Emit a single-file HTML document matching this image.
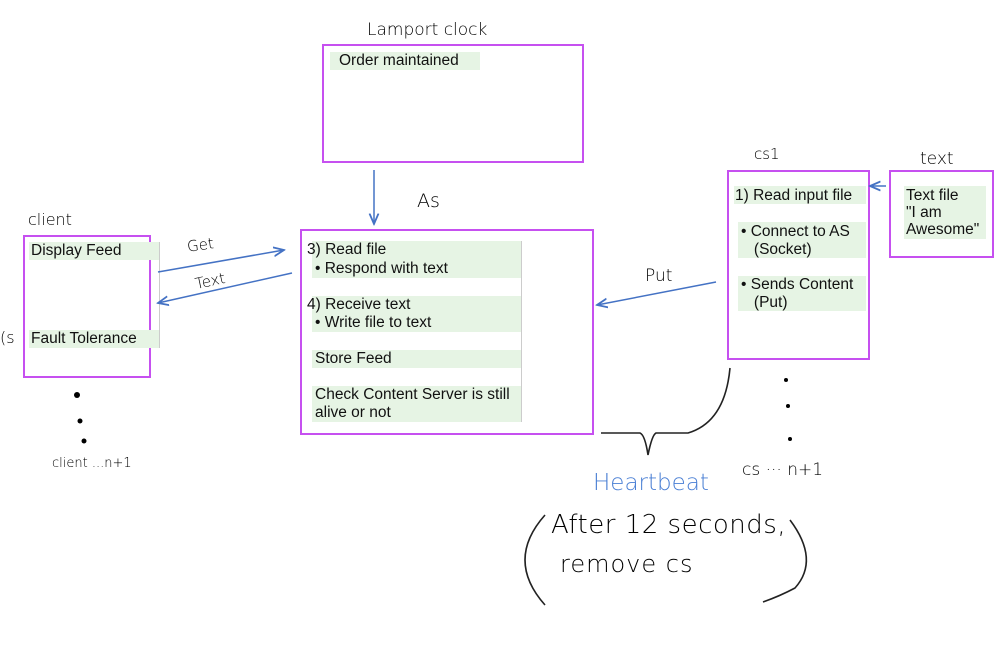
<!DOCTYPE html>
<html><head><meta charset="utf-8"><style>
body{margin:0;width:1006px;height:648px;background:#fff;position:relative;overflow:hidden;font-family:"Liberation Sans",sans-serif;}
.box{position:absolute;border:2px solid #c650f0;box-sizing:border-box;}
.t{position:absolute;font-size:15.5px;color:#111;line-height:18px;}
.hl{position:absolute;background:#e6f4e4;}
.h{position:absolute;font-family:"DejaVu Sans",sans-serif;font-weight:200;color:#000;}
</style></head><body>
<div class="box" style="left:322px;top:44px;width:262px;height:119px"></div>
<div class="box" style="left:300px;top:229px;width:294px;height:206px"></div>
<div class="box" style="left:23px;top:235px;width:128px;height:143px"></div>
<div class="box" style="left:727px;top:170px;width:143px;height:190px"></div>
<div class="box" style="left:889px;top:170px;width:105px;height:88px"></div>

<div class="hl" style="left:330px;top:52px;width:150px;height:18px"></div>
<div class="t" style="left:339px;top:52px">Order maintained</div>

<div class="hl" style="left:312px;top:241px;width:209px;height:37px"></div>
<div class="hl" style="left:312px;top:296px;width:209px;height:36px"></div>
<div class="hl" style="left:312px;top:350px;width:209px;height:18px"></div>
<div class="hl" style="left:312px;top:386px;width:209px;height:36px"></div>
<div style="position:absolute;left:521px;top:241px;width:1px;height:181px;background:#ccc"></div>
<div class="t" style="left:307px;top:241px">3) Read file</div>
<div class="t" style="left:315px;top:260px">• Respond with text</div>
<div class="t" style="left:307px;top:296px">4) Receive text</div>
<div class="t" style="left:315px;top:314px">• Write file to text</div>
<div class="t" style="left:315px;top:350px">Store Feed</div>
<div class="t" style="left:315px;top:386px">Check Content Server is still<br>alive or not</div>

<div class="hl" style="left:29px;top:242px;width:130px;height:18px"></div>
<div class="hl" style="left:29px;top:330px;width:130px;height:18px"></div>
<div style="position:absolute;left:159px;top:242px;width:1px;height:106px;background:#ccc"></div>
<div class="t" style="left:31px;top:242px">Display Feed</div>
<div class="t" style="left:31px;top:330px">Fault Tolerance</div>

<div class="hl" style="left:734px;top:186px;width:132px;height:18px"></div>
<div class="hl" style="left:738px;top:222px;width:128px;height:36px"></div>
<div class="hl" style="left:738px;top:276px;width:128px;height:35px"></div>
<div class="t" style="left:735px;top:187px">1) Read input file</div>
<div class="t" style="left:741px;top:223px">• Connect to AS<br>&nbsp;&nbsp;&nbsp;(Socket)</div>
<div class="t" style="left:741px;top:276px">• Sends Content<br>&nbsp;&nbsp;&nbsp;(Put)</div>

<div class="hl" style="left:904px;top:186px;width:82px;height:53px"></div>
<div class="t" style="left:906px;top:187px;line-height:17px">Text file<br>"I am<br>Awesome"</div>

<div class="h" style="left:367px;top:20px;font-size:17px">Lamport clock</div>
<div class="h" style="left:417px;top:190px;font-size:19px">As</div>
<div class="h" style="left:28px;top:210px;font-size:16px">client</div>
<div class="h" style="left:187px;top:236px;font-size:15px;transform:rotate(-8deg)">Get</div>
<div class="h" style="left:195px;top:272px;font-size:15px;transform:rotate(-12deg)">Text</div>
<div class="h" style="left:645px;top:266px;font-size:17px">Put</div>
<div class="h" style="left:754px;top:145px;font-size:15px">cs1</div>
<div class="h" style="left:920px;top:149px;font-size:17px">text</div>
<div class="h" style="left:52px;top:456px;font-size:13px">client ...n+1</div>
<div class="h" style="left:742px;top:460px;font-size:17px">cs ··· n+1</div>
<div class="h" style="left:593px;top:470px;font-size:23px;color:#4a7fd4">Heartbeat</div>
<div class="h" style="left:551px;top:510px;font-size:26px;letter-spacing:0.5px">After 12 seconds,</div>
<div class="h" style="left:560px;top:550px;font-size:24px;letter-spacing:1px">remove cs</div>
<div class="h" style="left:0px;top:328px;font-size:16px">(s</div>

<svg width="1006" height="648" style="position:absolute;left:0;top:0">
<defs><marker id="a" markerWidth="8" markerHeight="8" refX="7" refY="4" orient="auto"><path d="M0,1 L7,4 L0,7" fill="none" stroke="#4472c4" stroke-width="1.2"/></marker></defs>
<g stroke="#4472c4" stroke-width="1.5" fill="none" marker-end="url(#a)">
<line x1="374" y1="170" x2="374" y2="224"/>
<line x1="158" y1="272" x2="284" y2="250"/>
<line x1="292" y1="273" x2="158" y2="303"/>
<line x1="716" y1="282" x2="597" y2="305"/>
<line x1="886" y1="186" x2="870" y2="186"/>
</g>
<g stroke="#222" stroke-width="1.6" fill="none">
<path d="M601,433 L640,433 Q645,435 648,455 Q652,435 656,433 L688,433 Q725,422 730,368"/>
<path d="M545,515 Q505,560 545,605"/>
<path d="M790,520 Q820,560 795,588 Q780,596 763,602"/>
</g>
<g fill="#000">
<circle cx="77" cy="395" r="3"/><circle cx="80" cy="421" r="2.5"/><circle cx="84" cy="441" r="2.5"/>
<circle cx="786" cy="380" r="2"/><circle cx="788" cy="406" r="2"/><circle cx="790" cy="439" r="2"/>
</g>
</svg>
</body></html>
